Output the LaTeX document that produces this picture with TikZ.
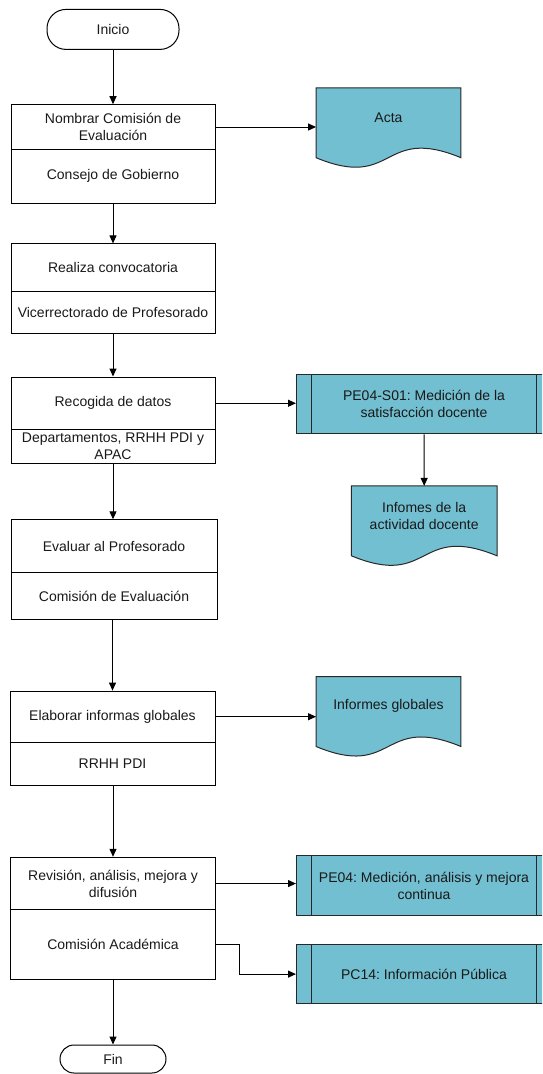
\documentclass[tikz,border=0pt]{standalone}
\usepackage{fontspec}
\setmainfont{Liberation Sans}
\usetikzlibrary{arrows.meta,calc,backgrounds}
\definecolor{procfill}{RGB}{114,191,209}
\definecolor{txt}{RGB}{25,25,25}
\definecolor{docline}{RGB}{40,40,40}
\tikzset{
  basefont/.style={font=\fontsize{14}{17}\selectfont, text=txt},
  box/.style={draw, line width=1pt, rectangle, inner sep=0pt, align=center, basefont},
  term/.style={draw, line width=1pt, rectangle, inner sep=0pt, align=center, basefont},
  docnode/.style={rectangle, inner sep=0pt, align=center, basefont, minimum height=59pt, anchor=north},
  docshape/.style={fill=procfill, draw=docline, line width=1pt},
  predef/.style={draw=docline, fill=procfill, line width=1pt, rectangle, inner sep=0pt, align=center, basefont, minimum width=255pt},
  predefline/.style={draw=docline, line width=1pt},
  arr/.style={line width=1pt, -{Triangle[length=8pt,width=7pt]}},
  conn/.style={line width=1pt}
}
\newcommand{\docoutline}[2]{% name, width
  \path[docshape] (#1.north west) -- (#1.north east) -- ($(#1.south east)+(0,10.5)$)
    .. controls ($(#1.south west)+(0.45*#2,-22.5)$) and ($(#1.south west)+(0.55*#2,43.5)$) ..
    ($(#1.south west)+(0,10.5)$) -- cycle;}
\newcommand{\predeflines}[1]{%
  \draw[predefline] ([xshift=15.6pt]#1.north west) -- ([xshift=15.6pt]#1.south west);
  \draw[predefline] ([xshift=-15.6pt]#1.north east) -- ([xshift=-15.6pt]#1.south east);}
\frenchspacing
\begin{document}
\begin{tikzpicture}[x=1pt,y=-1pt]
\useasboundingbox (0,0) rectangle (542,1074);
\clip (0,0) rectangle (542,1074);

% terminators
\node[term, minimum width=132pt, minimum height=40pt, rounded corners=19pt] (ini) at (113,29.4) {Inicio};
\node[term, minimum width=106pt, minimum height=28pt, rounded corners=14pt] (fin) at (113,1059) {Fin};

% process boxes
\node[box, minimum width=204pt, minimum height=44.6pt] (b1a) at (113,127) {Nombrar Comisión de\\Evaluación};
\node[box, minimum width=204pt, minimum height=54pt] (b1b) at (113,176.3) {Consejo de Gobierno};

\node[box, minimum width=204pt, minimum height=47.3pt] (b2a) at (113,267.55) {Realiza convocatoria};
\node[box, minimum width=204pt, minimum height=42.6pt] (b2b) at (113,312.5) {Vicerrectorado de Profesorado};

\node[box, minimum width=204pt, minimum height=52.5pt] (b3a) at (113,403.25) {Recogida de datos};
\node[box, minimum width=204pt, minimum height=34pt] (b3b) at (113,446.5) {Departamentos, RRHH PDI y\\APAC};

\node[box, minimum width=206pt, minimum height=52.6pt] (b4a) at (114,546.1) {Evaluar al Profesorado};
\node[box, minimum width=206pt, minimum height=47.3pt] (b4b) at (114,596.05) {Comisión de Evaluación};

\node[box, minimum width=205pt, minimum height=51.2pt] (b5a) at (112.5,716.7) {Elaborar informas globales};
\node[box, minimum width=205pt, minimum height=42.8pt] (b5b) at (112.5,763.7) {RRHH PDI};

\node[box, minimum width=205pt, minimum height=52.5pt] (b6a) at (113,883.55) {Revisión, análisis, mejora y\\difusión};
\node[box, minimum width=205pt, minimum height=69.5pt] (b6b) at (113,944.55) {Comisión Académica};

% documents
\node[docnode, minimum width=144.5pt] (acta) at (388.5,87.8) {Acta};
\node[docnode, minimum width=145.2pt] (infact) at (424.2,485.9) {Infomes de la\\actividad docente};
\node[docnode, minimum width=144.5pt] (infglob) at (388.5,676.6) {Informes globales};
\begin{scope}[on background layer]
  \docoutline{acta}{144.5}
  \docoutline{infact}{145.2}
  \docoutline{infglob}{144.5}
\end{scope}

% predefined processes
\node[predef, minimum height=59.5pt] (pe1) at (424,404) {PE04-S01: Medición de la\\satisfacción docente};
\node[predef, minimum height=59.8pt] (pe2) at (424,885.5) {PE04: Medición, análisis y mejora\\continua};
\node[predef, minimum height=58.8pt] (pc14) at (424,974.1) {PC14: Información Pública};
\predeflines{pe1}
\predeflines{pe2}
\predeflines{pc14}

% connectors
\draw[arr] (ini.south) -- (b1a.north);
\draw[arr] (b1b.south) -- (b2a.north);
\draw[arr] (b2b.south) -- (b3a.north);
\draw[arr] (b3b.south) -- (b4a.north -| b3b.south);
\draw[arr] (b4b.south -| b5a.north) -- (b5a.north);
\draw[arr] (b5b.south -| b6a.north) -- (b6a.north);
\draw[arr] (b6b.south) -- (fin.north);
\draw[arr] (b1a.east) -- (acta.west |- b1a.east);
\draw[arr] (b3a.east) -- (pe1.west |- b3a.east);
\draw[arr] (pe1.south) -- (infact.north);
\draw[arr] (b5a.east) -- (infglob.west |- b5a.east);
\draw[arr] (b6a.east) -- (pe2.west |- b6a.east);
\draw[arr] (b6b.east) -- ++(23.5,0) |- (pc14.west);
\end{tikzpicture}
\end{document}
